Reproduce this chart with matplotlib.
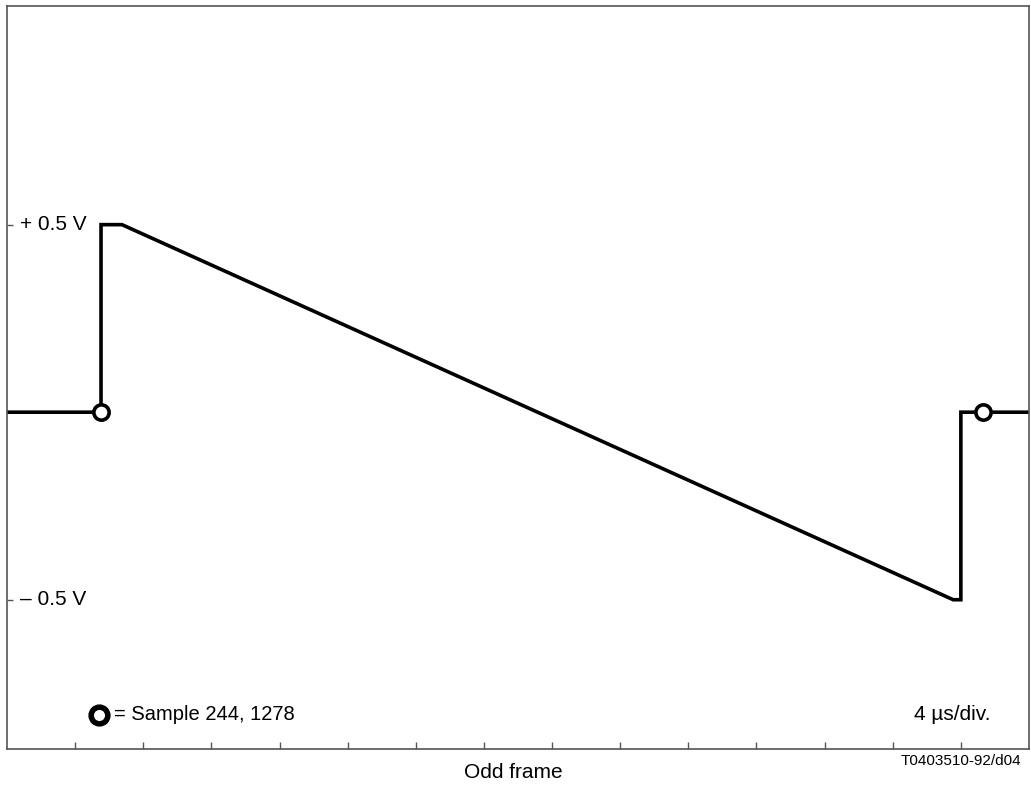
import matplotlib
matplotlib.use("Agg")
import matplotlib.pyplot as plt
import matplotlib.transforms as mtransforms

plt.rcParams['font.family'] = ['Liberation Sans', 'DejaVu Sans']

# waveform (time in microseconds, amplitude in volts)
time_us = [0.0, 5.52, 5.52, 6.75, 55.55, 56.0, 56.0, 60.0]
volts = [0.0, 0.0, 0.5, 0.5, -0.5, -0.5, 0.0, 0.0]

# sample points (244, 1278)
sample_t = [5.52, 57.3]
sample_v = [0.0, 0.0]

# axis
x_ticks = [4, 8, 12, 16, 20, 24, 28, 32, 36, 40, 44, 48, 52, 56]
y_ticks = [0.5, -0.5]
y_labels = ["+ 0.5 V", "\u2013 0.5 V"]

fig = plt.figure(figsize=(10.31, 7.85), dpi=100)
ax = fig.add_axes([7/1031, 36/785, 1022/1031, 743/785])
ax.set_xlim(0, 60)
ax.set_ylim(-0.898, 1.083)

frame_col = '#555555'
for s in ax.spines.values():
    s.set_color(frame_col)
    s.set_linewidth(1.2)

ax.plot(time_us, volts, color='black', lw=2.6, solid_joinstyle='miter', zorder=2)
ax.plot(sample_t, sample_v, 'o', ms=11, mfc='white', mec='black', mew=2.6, zorder=3)

ax.set_xticks(x_ticks)
ax.set_xticklabels([])
ax.set_yticks(y_ticks)
ax.set_yticklabels([])
ax.tick_params(axis='x', direction='in', length=5, width=1, color=frame_col)
ax.tick_params(axis='y', direction='in', length=4, width=1, color=frame_col)

trans = mtransforms.blended_transform_factory(ax.transAxes, ax.transData)
for yv, lab in zip(y_ticks, y_labels):
    ax.text(13/1022, yv, lab, transform=trans, fontsize=15, ha='left', va='center')

# legend-like annotation
ax.plot([0.09], [0.046], 'o', transform=ax.transAxes, ms=12, mfc='white',
        mec='black', mew=4, clip_on=False)
ax.text(107/1022, 0.046, "= Sample 244, 1278", transform=ax.transAxes,
        fontsize=14.5, ha='left', va='center')
ax.text(983/1022, 0.046, "4 \u00b5s/div.", transform=ax.transAxes,
        fontsize=15, ha='right', va='center')

fig.text(513/1031, 1 - 773/785, "Odd frame", fontsize=15, ha='center', va='center')
fig.text(1021/1031, 1 - 761/785, "T0403510-92/d04", fontsize=11, ha='right', va='center')

fig.savefig("out.png", dpi=100)
